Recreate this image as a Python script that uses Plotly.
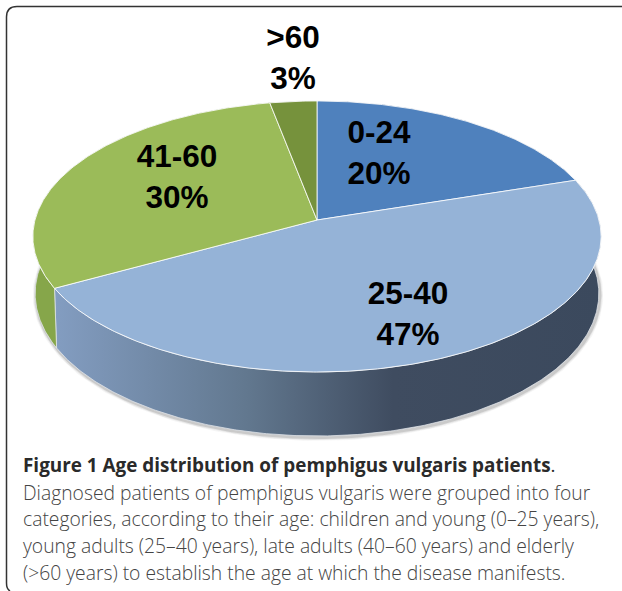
import numpy as np
import plotly.graph_objects as go

CATEGORIES = ["0-24", "25-40", "41-60", ">60"]
PERCENTS = [20, 47, 30, 3]
TOP_COLORS = ["#4f81bd", "#95b3d7", "#9bbb59", "#76923c"]
SIDE_COLORS = ["#3c4a5e", None, "#86a64a", "#76923c"]
LABEL_X = [379, 408, 177, 293]
LABEL_Y = [155.5, 316.5, 179.5, 60.5]

CAPTION_BOLD = "Figure 1 Age distribution of pemphigus vulgaris patients"
CAPTION_LINES = [
    "Diagnosed patients of pemphigus vulgaris were grouped into four",
    "categories, according to their age: children and young (0–25 years),",
    "young adults (25–40 years), late adults (40–60 years) and elderly",
    "(>60 years) to establish the age at which the disease manifests.",
]

# Fake 3D: disc seen in perspective, angles run clockwise from 12 o'clock
CX, CY = 317, 220
RX, RY = 282, 133.5
PERSP = 0.1217
DEPTH = 56.2
BOTTOM_SCALE = 0.992


def project(deg, radius=1.0, bottom=False):
    t = np.radians(deg)
    u = radius * np.sin(t)
    v = radius * np.cos(t)
    den = 1 + PERSP * v
    x = RX * u / den
    y = -RY * v / den
    if bottom:
        return CX + x * BOTTOM_SCALE, CY + y + DEPTH / den
    return CX + x, CY + y


def arc(start, end, bottom=False):
    return project(np.linspace(start, end, max(int(abs(end - start)) * 2, 2) + 1), bottom=bottom)


def closed(xs, ys):
    return list(xs) + [xs[0]], list(ys) + [ys[0]]


edges = np.cumsum([0] + PERCENTS) * 3.6
fig = go.Figure()

# soft shadow under the outer rim
for width, alpha in [(7, 0.07), (5, 0.12), (3, 0.22)]:
    sx, sy = arc(78, 282, bottom=True)
    fig.add_trace(go.Scatter(
        x=sx + 1, y=sy + 1.5, mode="lines",
        line=dict(color=f"rgba(110,110,110,{alpha})", width=width),
        hoverinfo="skip", showlegend=False,
    ))

# side walls
for i in range(len(PERCENTS)):
    tx, ty = arc(edges[i], edges[i + 1])
    bx, by = arc(edges[i], edges[i + 1], bottom=True)
    xs, ys = closed(np.r_[tx, bx[::-1]], np.r_[ty, by[::-1]])
    style = dict(fillcolor=SIDE_COLORS[i]) if SIDE_COLORS[i] else dict(
        fillgradient=dict(
            type="horizontal",
            colorscale=[
                [0.0, "#839dc1"],
                [0.35, "#62788f"],
                [0.62, "#3f4c60"],
                [1.0, "#3b495d"],
            ],
        )
    )
    fig.add_trace(go.Scatter(
        x=xs, y=ys, mode="lines", fill="toself",
        line=dict(color="rgba(225,230,235,0.75)", width=1),
        hoverinfo="skip", showlegend=False, **style,
    ))

# top faces
for i in range(len(PERCENTS)):
    ax, ay = arc(edges[i], edges[i + 1])
    xs, ys = closed(np.r_[CX, ax], np.r_[CY, ay])
    fig.add_trace(go.Scatter(
        x=xs, y=ys, mode="lines", fill="toself",
        fillcolor=TOP_COLORS[i],
        line=dict(color="rgba(255,255,255,0.8)", width=1),
        hovertemplate=f"{CATEGORIES[i]}: {PERCENTS[i]}%<extra></extra>",
        showlegend=False,
    ))

# slice labels
fig.add_trace(go.Scatter(
    x=LABEL_X, y=LABEL_Y, mode="text",
    text=[f"{c}<br>{p}%" for c, p in zip(CATEGORIES, PERCENTS)],
    textposition="middle center",
    textfont=dict(family="Liberation Sans", size=31.5, color="black", weight="bold"),
    hoverinfo="skip", showlegend=False,
))

annotations = [dict(
    x=21, y=465, xref="x", yref="y", xanchor="left", yanchor="middle", showarrow=False,
    text=f"<b>{CAPTION_BOLD}</b>.",
    font=dict(family="Open Sans", size=18.9, color="#2a2a2a"),
)]
for n, line in enumerate(CAPTION_LINES):
    annotations.append(dict(
        x=21, y=492 + n * 26.8, xref="x", yref="y", xanchor="left", yanchor="middle",
        showarrow=False, text=line,
        font=dict(family="Open Sans", size=19.3, color="#444444", weight=300),
    ))

fig.update_layout(
    width=622,
    height=591,
    margin=dict(l=0, r=0, t=0, b=0),
    paper_bgcolor="white",
    plot_bgcolor="white",
    xaxis=dict(range=[0, 622], visible=False),
    yaxis=dict(range=[591, 0], visible=False),
    annotations=annotations,
    shapes=[dict(
        type="path",
        path="M 10 591 Q 6.5 589 6.5 583 L 6.5 17 Q 6.5 6.5 17 6.5 L 622 6.5",
        line=dict(color="#333333", width=1.5),
        layer="above",
    )],
)

fig.write_html(
    "out.html",
    config=dict(displayModeBar=False),
    post_script="document.body.style.margin = '0'; document.body.style.overflow = 'hidden';",
)
